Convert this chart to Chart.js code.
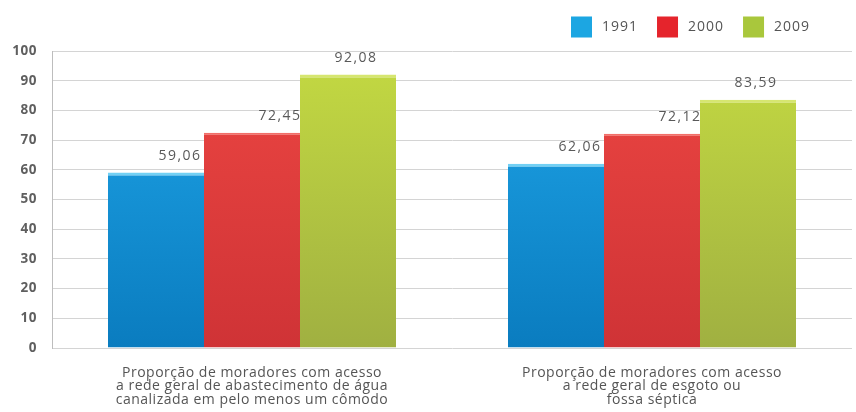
<!DOCTYPE html>
<html>
<head>
<meta charset="utf-8">
<script src="https://cdn.jsdelivr.net/npm/chart.js@4/dist/chart.umd.min.js"></script>
<style>
  html, body { margin: 0; padding: 0; background: #fff; }
  #wrap { width: 856px; height: 412px; position: relative; }
</style>
</head>
<body>
<div id="wrap"><canvas id="chart"></canvas></div>
<script>
// categories (multi-line labels under each group)
const categories = [
  ['Proporção de moradores com acesso', 'a rede geral de abastecimento de água', 'canalizada em pelo menos um cômodo'],
  ['Proporção de moradores com acesso', 'a rede geral de esgoto ou', 'fossa séptica']
];
const years = ['1991', '2000', '2009'];
const values1991 = [59.06, 62.06];
const values2000 = [72.45, 72.12];
const values2009 = [92.08, 83.59];
const yTicks = [0, 10, 20, 30, 40, 50, 60, 70, 80, 90, 100];

// top/bottom gradient stops, top highlight, legend swatch
const palette = [
  { top: '#1fa5e8', bottom: '#0a7cbf', edge: '#72d0f4', edgeWidth: 3, swatch: '#1ca6e2' },
  { top: '#ec4642', bottom: '#cf3336', edge: '#f26e68', edgeWidth: 2, swatch: '#e5242c' },
  { top: '#c4da42', bottom: '#a0b041', edge: '#d6e670', edgeWidth: 3, swatch: '#a9c73c' }
];

function barFill(top, bottom) {
  return ctx => {
    const area = ctx.chart.chartArea;
    if (!area) return bottom;
    const g = ctx.chart.ctx.createLinearGradient(0, area.top, 0, area.bottom);
    g.addColorStop(0, top);
    g.addColorStop(1, bottom);
    return g;
  };
}

const series = [values1991, values2000, values2009];

const datasets = series.map((values, i) => ({
  label: years[i],
  data: values,
  backgroundColor: barFill(palette[i].top, palette[i].bottom),
  borderColor: palette[i].edge,
  borderWidth: { top: palette[i].edgeWidth, left: 0, right: 0, bottom: 0 },
  borderSkipped: 'start',
  legendColor: palette[i].swatch,
  barPercentage: 1,
  categoryPercentage: 0.72
}));

// slightly tracked-out text for the axis labels
const textSpacing = {
  id: 'textSpacing',
  beforeDraw(chart, args, opts) {
    chart.ctx.letterSpacing = opts.spacing;
  }
};

// value printed above each bar, nudged right like the original print layout
const valueLabels = {
  id: 'valueLabels',
  afterDatasetsDraw(chart, args, opts) {
    const { ctx } = chart;
    ctx.save();
    ctx.font = opts.font;
    ctx.letterSpacing = opts.spacing;
    ctx.fillStyle = opts.color;
    ctx.textAlign = 'center';
    ctx.textBaseline = 'middle';
    chart.data.datasets.forEach((ds, i) => {
      chart.getDatasetMeta(i).data.forEach((bar, j) => {
        const text = ds.data[j].toFixed(2).replace('.', ',');
        ctx.fillText(text, bar.x + opts.shift[i], bar.y - opts.lift);
      });
    });
    ctx.restore();
  }
};

// small square legend in the top right corner
const legendBoxes = {
  id: 'legendBoxes',
  afterDraw(chart, args, opts) {
    const { ctx } = chart;
    ctx.save();
    ctx.font = opts.font;
    ctx.letterSpacing = '1px';
    ctx.textBaseline = 'middle';
    let x = opts.x;
    chart.data.datasets.forEach(ds => {
      ctx.fillStyle = ds.legendColor;
      ctx.fillRect(x, opts.y - opts.box / 2, opts.box, opts.box);
      x += opts.box + opts.gap;
      ctx.fillStyle = opts.color;
      ctx.fillText(ds.label, x, opts.y);
      x += ctx.measureText(ds.label).width + opts.spacing;
    });
    ctx.restore();
  }
};

Chart.defaults.font.family = "'Open Sans', sans-serif";

new Chart(document.getElementById('chart'), {
  type: 'bar',
  data: { labels: categories, datasets },
  plugins: [textSpacing, valueLabels, legendBoxes],
  options: {
    responsive: true,
    maintainAspectRatio: false,
    animation: false,
    layout: { padding: { top: 51, right: 4, left: 0, bottom: 0 } },
    scales: {
      x: {
        afterFit: scale => { scale.height = 64; },
        grid: { display: false, drawTicks: false },
        border: { display: false },
        ticks: {
          color: '#555',
          font: { size: 14, lineHeight: '13.5px' },
          padding: 18,
          maxRotation: 0,
          autoSkip: false
        }
      },
      y: {
        min: 0,
        max: 100,
        afterBuildTicks: scale => { scale.ticks = yTicks.map(v => ({ value: v })); },
        afterFit: scale => { scale.width = 52; },
        grid: { color: '#d4d4d4', drawTicks: false },
        border: { display: true, color: '#bdbdbd' },
        ticks: {
          color: '#5f5f5f',
          font: { size: 13.5, weight: 'bold' },
          padding: 15
        }
      }
    },
    plugins: {
      legend: { display: false },
      tooltip: { enabled: false },
      textSpacing: { spacing: '0.5px' },
      valueLabels: { font: '14px "Open Sans", sans-serif', spacing: '1.5px', color: '#595959', shift: [24, 28, 8], lift: 17 },
      legendBoxes: { x: 571, y: 27, box: 21, gap: 10, spacing: 19, font: '14px "Open Sans", sans-serif', color: '#555' }
    }
  }
});
</script>
</body>
</html>
